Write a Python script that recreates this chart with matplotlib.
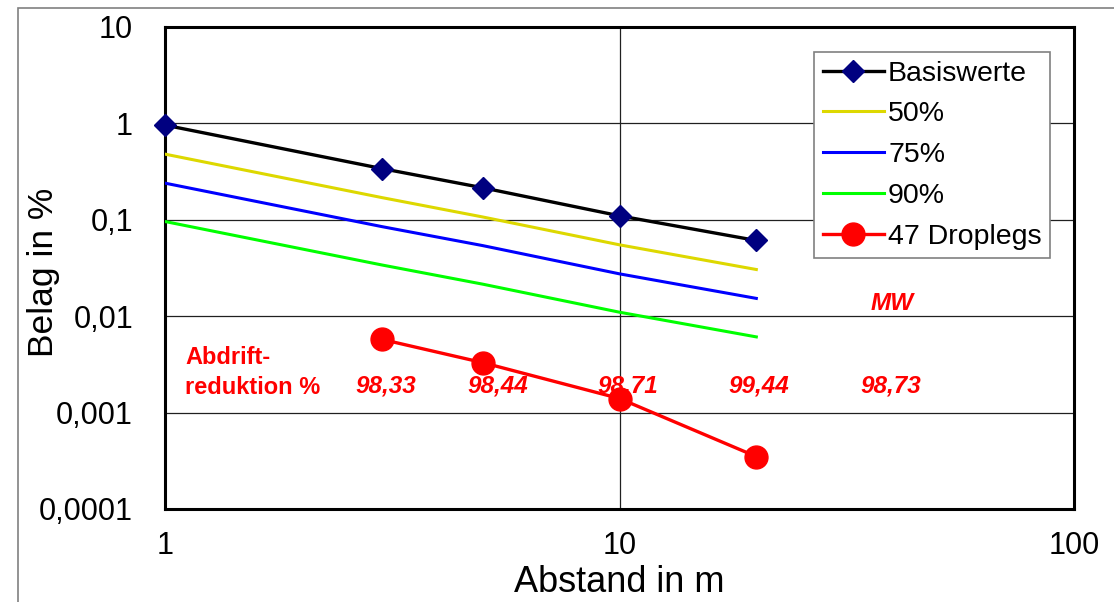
import matplotlib
matplotlib.use("Agg")
import matplotlib.pyplot as plt
from matplotlib.patches import Rectangle

plt.rcParams['font.family'] = ['Liberation Sans', 'DejaVu Sans']

# Data
abstand = [1, 3, 5, 10, 20]
basiswerte = [0.96, 0.34, 0.215, 0.11, 0.061]
p50 = [0.48, 0.17, 0.107, 0.055, 0.0305]
p75 = [0.24, 0.085, 0.054, 0.0275, 0.0153]
p90 = [0.096, 0.034, 0.0215, 0.011, 0.0061]
droplegs_x = [3, 5, 10, 20]
droplegs = [0.00575, 0.0033, 0.0014, 0.00035]

y_ticks = [0.0001, 0.001, 0.01, 0.1, 1, 10]
y_ticklabels = ["0,0001", "0,001", "0,01", "0,1", "1", "10"]
x_ticks = [1, 10, 100]
x_ticklabels = ["1", "10", "100"]

reduktion_labels = ["98,33", "98,44", "98,71", "99,44", "98,73"]
reduktion_px = [386, 498, 628, 759, 891]

W, H = 1114, 602
fig = plt.figure(figsize=(W / 100, H / 100), dpi=100)

# outer chart frame (extends past the right and bottom edges)
fig.patches.append(Rectangle((18 / W, -0.2), 1.2, (H - 8) / H + 0.2, transform=fig.transFigure,
                             fill=False, edgecolor='#808080', linewidth=1.2))

L, R, T, B = 165, 1074, 27, 509
ax = fig.add_axes([L / W, 1 - B / H, (R - L) / W, (B - T) / H])
ax.set_xscale('log')
ax.set_yscale('log')
ax.set_xlim(1, 100)
ax.set_ylim(0.0001, 10)

ax.set_yticks(y_ticks)
ax.set_yticklabels(y_ticklabels)
ax.set_xticks(x_ticks)
ax.set_xticklabels(x_ticklabels)
ax.minorticks_off()
ax.tick_params(axis='both', length=0, labelsize=22)
ax.tick_params(axis='y', pad=23)
ax.tick_params(axis='x', pad=16)

ax.grid(True, which='major', color='#202020', linewidth=0.9)
ax.set_axisbelow(True)
for s in ax.spines.values():
    s.set_linewidth(2.2)
    s.set_color('black')

ax.plot(abstand, basiswerte, color='black', linewidth=2.4, marker='D',
        markersize=11, markerfacecolor='#000080', markeredgecolor='#000080',
        label='Basiswerte', zorder=5, clip_on=False)
ax.plot(abstand, p50, color='#DDD800', linewidth=2.2, label='50%', zorder=4)
ax.plot(abstand, p75, color='#0000FF', linewidth=2.2, label='75%', zorder=4)
ax.plot(abstand, p90, color='#00FF00', linewidth=2.2, label='90%', zorder=4)
ax.plot(droplegs_x, droplegs, color='#FF0000', linewidth=2.4, marker='o',
        markersize=16.5, markerfacecolor='#FF0000', markeredgecolor='#FF0000',
        label='47 Droplegs', zorder=6)

ax.set_xlabel('Abstand in m', fontsize=26, labelpad=0)
ax.xaxis.set_label_coords(0.5, (B - 582) / (B - T), transform=ax.transAxes)
ax.xaxis.label.set_va('center')
ax.set_ylabel('Belag in %', fontsize=25.5)
ax.yaxis.set_label_coords((43 - L) / (R - L), (B - 272) / (B - T), transform=ax.transAxes)
ax.yaxis.label.set_va('center')

def afx(px):
    return (px - L) / (R - L)

def afy(py):
    return (B - py) / (B - T)

red = '#FF0000'
ax.text(afx(185), afy(357), 'Abdrift-', transform=ax.transAxes, color=red,
        fontsize=17, fontweight='bold', ha='left', va='center')
ax.text(afx(185), afy(387), 'reduktion %', transform=ax.transAxes, color=red,
        fontsize=17, fontweight='bold', ha='left', va='center')
for lab, px in zip(reduktion_labels, reduktion_px):
    ax.text(afx(px), afy(386), lab, transform=ax.transAxes, color=red,
            fontsize=17.5, fontweight='bold', fontstyle='italic',
            ha='center', va='center', zorder=7)
ax.text(afx(892), afy(304), 'MW', transform=ax.transAxes, color=red,
        fontsize=17.5, fontweight='bold', fontstyle='italic',
        ha='center', va='center')

leg = ax.legend(loc='upper left', bbox_to_anchor=(afx(814), afy(52)),
                fontsize=20.5, frameon=True, fancybox=False, framealpha=1,
                edgecolor='#808080', borderpad=0.3, labelspacing=0.52,
                handlelength=2.15, handletextpad=0.15, borderaxespad=0)
leg.get_frame().set_linewidth(1.2)

fig.savefig('out.png', dpi=100, facecolor='white')
